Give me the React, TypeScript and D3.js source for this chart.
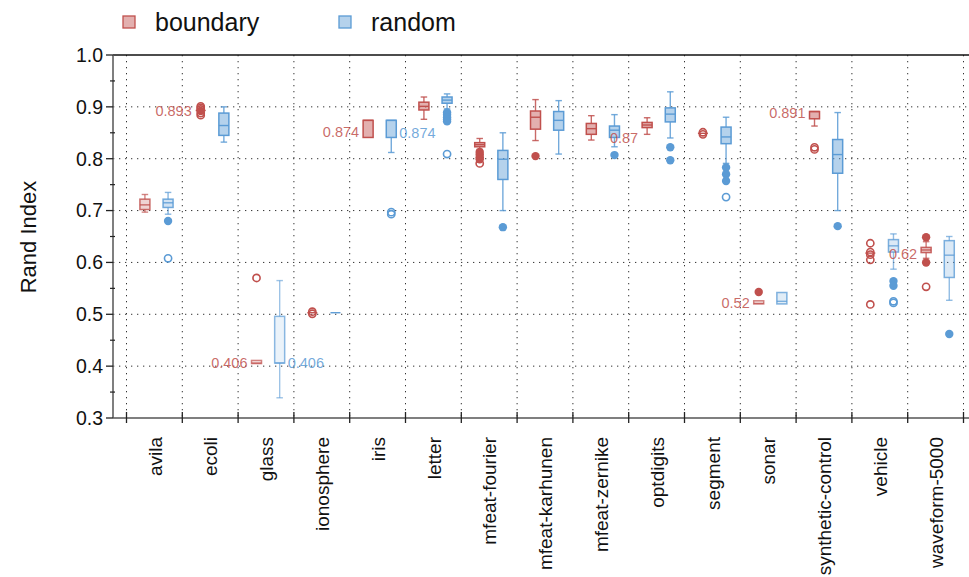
import React from 'react';
import * as d3 from 'd3';

const categories = ['avila', 'ecoli', 'glass', 'ionosphere', 'iris', 'letter', 'mfeat-fourier', 'mfeat-karhunen', 'mfeat-zernike', 'optdigits', 'segment', 'sonar', 'synthetic-control', 'vehicle', 'waveform-5000'];

// [whiskerLow, q1, median, q3, whiskerHigh]
const boundaryStats: number[][] = [
  [0.697, 0.702, 0.711, 0.722, 0.731],
  [0.893, 0.893, 0.893, 0.893, 0.893],
  [0.405, 0.405, 0.406, 0.411, 0.411],
  [0.503, 0.503, 0.503, 0.503, 0.503],
  [0.841, 0.841, 0.874, 0.874, 0.874],
  [0.876, 0.894, 0.901, 0.909, 0.919],
  [0.818, 0.823, 0.827, 0.831, 0.839],
  [0.835, 0.857, 0.880, 0.892, 0.914],
  [0.836, 0.847, 0.858, 0.868, 0.883],
  [0.847, 0.860, 0.865, 0.870, 0.879],
  [0.849, 0.849, 0.849, 0.849, 0.849],
  [0.520, 0.520, 0.521, 0.526, 0.526],
  [0.863, 0.877, 0.891, 0.891, 0.891],
  [0.618, 0.618, 0.618, 0.618, 0.618],
  [0.608, 0.619, 0.624, 0.629, 0.640],
];

const randomStats: number[][] = [
  [0.693, 0.706, 0.715, 0.722, 0.735],
  [0.832, 0.845, 0.864, 0.888, 0.900],
  [0.339, 0.406, 0.406, 0.496, 0.565],
  [0.503, 0.503, 0.503, 0.503, 0.503],
  [0.812, 0.841, 0.874, 0.874, 0.874],
  [0.896, 0.907, 0.913, 0.919, 0.925],
  [0.700, 0.760, 0.799, 0.816, 0.850],
  [0.809, 0.855, 0.874, 0.891, 0.912],
  [0.823, 0.841, 0.855, 0.863, 0.885],
  [0.840, 0.871, 0.886, 0.898, 0.929],
  [0.791, 0.829, 0.842, 0.861, 0.880],
  [0.520, 0.520, 0.525, 0.542, 0.542],
  [0.700, 0.772, 0.808, 0.837, 0.889],
  [0.587, 0.620, 0.632, 0.644, 0.655],
  [0.527, 0.571, 0.614, 0.642, 0.650],
];

const boundaryFilled: number[][] = [
  [], [0.892], [], [], [], [], [0.813, 0.808, 0.803, 0.799], [0.805], [], [], [], [0.543], [], [], [0.6485, 0.600],
];
const boundaryOpen: number[][] = [
  [], [0.901, 0.898, 0.895, 0.888, 0.884], [0.570], [0.505, 0.501], [], [], [0.791], [], [], [], [0.851, 0.847], [], [0.822, 0.818], [0.637, 0.620, 0.615, 0.605, 0.519], [0.553],
];
const randomFilled: number[][] = [
  [0.680], [], [], [], [], [0.889, 0.885, 0.880, 0.876, 0.872], [0.668], [], [0.807], [0.822, 0.797], [0.783, 0.770, 0.757], [], [0.670], [0.564, 0.555], [0.462],
];
const randomOpen: number[][] = [
  [0.608], [], [], [], [0.697, 0.693], [0.809], [], [], [], [], [0.726], [], [], [0.525, 0.522], [],
];

// strength of each box (1 = strong, 0 = faint)
const boundaryShade = [0.4, 1, 0, 1, 1, 1, 1, 1, 1, 1, 1, 0, 1, 1, 0.6];
const randomShade = [0.5, 1, 0, 1, 1, 1, 1, 1, 1, 1, 1, 0.2, 1, 0.3, 0.3];

const annotations = [
  { category: 'ecoli', series: 'boundary', text: '0.893', value: 0.893 },
  { category: 'glass', series: 'boundary', text: '0.406', value: 0.406 },
  { category: 'glass', series: 'random', text: '0.406', value: 0.406 },
  { category: 'iris', series: 'boundary', text: '0.874', value: 0.851 },
  { category: 'iris', series: 'random', text: '0.874', value: 0.849 },
  { category: 'optdigits', series: 'boundary', text: '0.87', value: 0.841 },
  { category: 'sonar', series: 'boundary', text: '0.52', value: 0.521 },
  { category: 'synthetic-control', series: 'boundary', text: '0.891', value: 0.888 },
  { category: 'waveform-5000', series: 'boundary', text: '0.62', value: 0.616 },
];

const yTicks = [0.3, 0.4, 0.5, 0.6, 0.7, 0.8, 0.9, 1.0];
const yMinorTicks = [0.35, 0.45, 0.55, 0.65, 0.75, 0.85, 0.95];
const seriesNames = ['boundary', 'random'];

const W = 969;
const H = 577;
const M = { left: 113, top: 55, bottom: 418, right: 977 };
const FONT = "'Liberation Sans', Arial, Helvetica, sans-serif";
const colors: Record<string, string> = { boundary: '#c0504d', random: '#5b9bd5' };

export default function App() {
  const y = d3.scaleLinear().domain([0.3, 1.0]).range([M.bottom, M.top]);
  const x = d3.scaleBand<string>().domain(categories).range([126.5, 963.5]).padding(0);
  const bw = x.bandwidth();
  const offsets: Record<string, number> = { boundary: 0.33, random: 0.745 };
  const boxW = 10;
  const capW = 6.5;
  const shadeFill = d3.scaleLinear().domain([0, 1]).range([0.12, 0.45]);
  const shadeStroke = d3.scaleLinear().domain([0, 1]).range([0.7, 1]);

  const boundaries = categories.map((c) => x(c) as number).concat([(x(categories[categories.length - 1]) as number) + bw]);

  const renderBox = (series: string, ci: number) => {
    const stats = series === 'boundary' ? boundaryStats[ci] : randomStats[ci];
    const filled = series === 'boundary' ? boundaryFilled[ci] : randomFilled[ci];
    const open = series === 'boundary' ? boundaryOpen[ci] : randomOpen[ci];
    const shade = series === 'boundary' ? boundaryShade[ci] : randomShade[ci];
    const col = colors[series];
    const cx = (x(categories[ci]) as number) + bw * offsets[series];
    const [lo, q1, med, q3, hi] = stats;
    const so = shadeStroke(shade);
    return (
      <g key={series + ci}>
        {hi > q3 && (
          <g stroke={col} strokeOpacity={so * 0.85} strokeWidth={1.4}>
            <line x1={cx} x2={cx} y1={y(q3)} y2={y(hi)} />
            <line x1={cx - capW / 2} x2={cx + capW / 2} y1={y(hi)} y2={y(hi)} />
          </g>
        )}
        {lo < q1 && (
          <g stroke={col} strokeOpacity={so * 0.85} strokeWidth={1.4}>
            <line x1={cx} x2={cx} y1={y(q1)} y2={y(lo)} />
            <line x1={cx - capW / 2} x2={cx + capW / 2} y1={y(lo)} y2={y(lo)} />
          </g>
        )}
        <rect
          x={cx - boxW / 2}
          y={y(q3)}
          width={boxW}
          height={Math.max(0, y(q1) - y(q3))}
          fill={col}
          fillOpacity={shadeFill(shade)}
          stroke={col}
          strokeOpacity={so}
          strokeWidth={1.5}
        />
        <line x1={cx - boxW / 2} x2={cx + boxW / 2} y1={y(med)} y2={y(med)} stroke={col} strokeOpacity={so} strokeWidth={1.4} />
        {open.map((v, i) => (
          <circle key={'o' + i} cx={cx} cy={y(v)} r={3.6} fill="white" fillOpacity={0} stroke={col} strokeWidth={1.6} />
        ))}
        {filled.map((v, i) => (
          <circle key={'f' + i} cx={cx} cy={y(v)} r={4.2} fill={col} stroke="none" />
        ))}
      </g>
    );
  };

  return (
    <div style={{ position: 'fixed', left: 0, top: 0 }}>
      <svg width={W} height={H} style={{ display: 'block', fontFamily: FONT }}>
        <rect x={0} y={0} width={W} height={H} fill="white" />
        {/* grid */}
        <g>
          {yTicks.filter((t) => t > 0.3 && t < 1.0).map((t) => (
            <line key={'gy' + t} x1={M.left} x2={M.right} y1={y(t)} y2={y(t)} stroke="#333" strokeWidth={1} strokeDasharray="1.3,4.7" />
          ))}
          {boundaries.map((b, i) => (
            <line key={'gx' + i} x1={b} x2={b} y1={M.top} y2={M.bottom} stroke="#333" strokeWidth={1} strokeDasharray="1.3,4.7" />
          ))}
        </g>
        {/* spines */}
        <line x1={M.left} x2={M.right} y1={M.top} y2={M.top} stroke="#111" strokeWidth={1.5} />
        <line x1={M.left} x2={M.left} y1={M.top} y2={M.bottom} stroke="#555" strokeWidth={1.5} />
        <line x1={M.left} x2={M.right} y1={M.bottom} y2={M.bottom} stroke="#555" strokeWidth={1.6} />
        {/* y ticks */}
        {yTicks.map((t) => (
          <g key={'yt' + t}>
            <line x1={M.left - 7} x2={M.left} y1={y(t)} y2={y(t)} stroke="#222" strokeWidth={1.3} />
            <text x={M.left - 10} y={y(t)} dy="0.35em" textAnchor="end" fontSize={19.5} fill="#111">
              {t.toFixed(1)}
            </text>
          </g>
        ))}
        {yMinorTicks.map((t) => (
          <line key={'ym' + t} x1={M.left - 3} x2={M.left + 2} y1={y(t)} y2={y(t)} stroke="#222" strokeWidth={1.2} />
        ))}
        {/* x ticks */}
        {boundaries.map((b, i) => (
          <line key={'xt' + i} x1={b} x2={b} y1={M.bottom - 6} y2={M.bottom + 5} stroke="#222" strokeWidth={1.3} />
        ))}
        {categories.map((c) => (
          <text
            key={'xl' + c}
            transform={`translate(${(x(c) as number) + bw / 2 + 0.5},${M.bottom + 19}) rotate(-90)`}
            dy="0.35em"
            textAnchor="end"
            fontSize={19}
            fill="#111"
          >
            {c}
          </text>
        ))}
        <text transform={`translate(28,237) rotate(-90)`} textAnchor="middle" dy="0.35em" fontSize={22} fill="#111">
          Rand Index
        </text>
        {/* boxes */}
        {seriesNames.map((s) => categories.map((_, ci) => renderBox(s, ci)))}
        {/* annotations */}
        {annotations.map((a, i) => {
          const cx = (x(a.category) as number) + bw * offsets[a.series];
          const isB = a.series === 'boundary';
          return (
            <text
              key={'an' + i}
              x={isB ? cx - 9 : cx + 8}
              y={y(a.value)}
              dy="0.35em"
              textAnchor={isB ? 'end' : 'start'}
              fontSize={14.5}
              fill={colors[a.series]}
              fillOpacity={0.85}
            >
              {a.text}
            </text>
          );
        })}
        {/* legend */}
        {seriesNames.map((s, i) => {
          const lx = i === 0 ? 123 : 339;
          return (
            <g key={'lg' + s}>
              <rect x={lx} y={16} width={12} height={12} fill={colors[s]} fillOpacity={0.45} stroke={colors[s]} strokeWidth={1.3} />
              <text x={lx + 32} y={31} fontSize={25} fill="#111">
                {s}
              </text>
            </g>
          );
        })}
      </svg>
    </div>
  );
}
